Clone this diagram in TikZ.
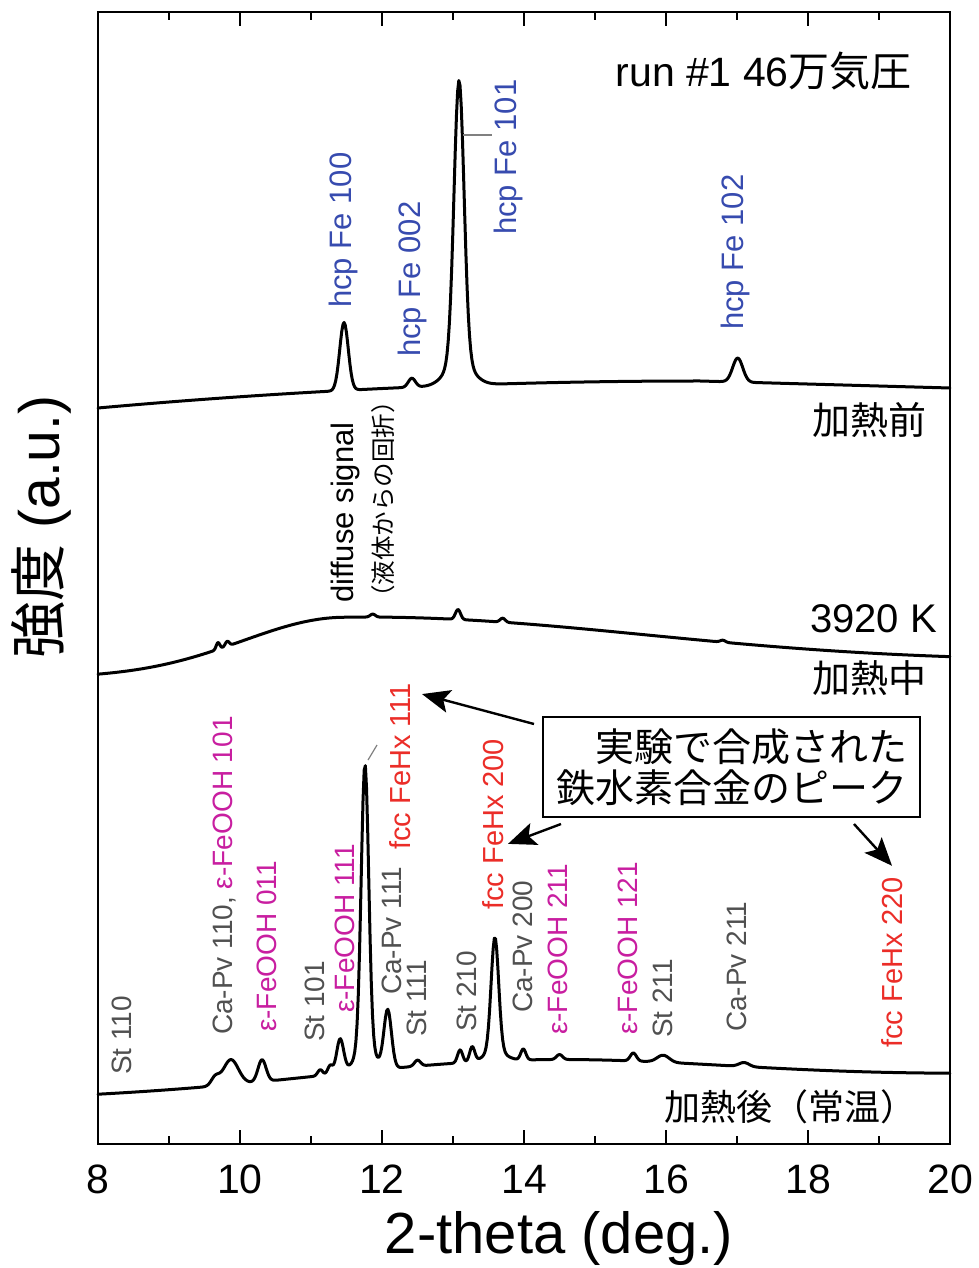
\documentclass[tikz,border=0pt]{standalone}
\usepackage{fontspec}
\setmainfont{Liberation Sans}
\newfontfamily\jp{Noto Sans CJK JP}
\usetikzlibrary{arrows.meta, positioning}

\definecolor{hcpblue}{RGB}{55,75,175}
\definecolor{fehxred}{RGB}{235,45,40}
\definecolor{oohmag}{RGB}{200,30,160}
\definecolor{phasegray}{RGB}{80,80,80}

\begin{document}
\begin{tikzpicture}[
    x=1pt, y=-1pt,
    declare function={
        pk(\x,\m,\s)=exp(-1*(min(abs(\x-\m)/\s,6))^2);
    },
    frame/.style={line width=2.5pt},
    tickmark/.style={line width=2.5pt},
    spec/.style={line width=3pt, line join=round, line cap=round},
    lbl/.style={rotate=90, anchor=west, inner sep=0pt, font=\fontsize{28}{30}\selectfont},
    hcp/.style={lbl, text=hcpblue, font=\fontsize{31}{33}\selectfont},
    phase/.style={lbl, text=phasegray},
    ooh/.style={lbl, text=oohmag},
    fehx/.style={lbl, text=fehxred, font=\fontsize{29}{31}\selectfont},
    jplbl/.style={inner sep=0pt, font=\jp\fontsize{38}{40}\selectfont},
    ticklbl/.style={anchor=base, inner sep=0pt, font=\fontsize{41}{43}\selectfont},
    leader/.style={draw=gray, line width=1.2pt},
    callout/.style={draw, line width=2pt, minimum width=377pt, minimum height=100pt, align=right, inner sep=0pt, font=\jp\fontsize{39}{41}\selectfont},
    arrow/.style={-{Stealth[length=28pt, width=23pt, inset=6pt]}, line width=2.4pt}
]
    \useasboundingbox (0,0) rectangle (978,1268);

    % Frame
    \draw[frame] (98,12) rectangle (950,1144);

    % Ticks
    \foreach \n in {2,4,...,10} {
        \draw[tickmark] ({98+71*\n},12) -- ++(0,14);
        \draw[tickmark] ({98+71*\n},1144) -- ++(0,-14);
    }
    \foreach \n in {1,3,...,11} {
        \draw[tickmark] ({98+71*\n},12) -- ++(0,8);
        \draw[tickmark] ({98+71*\n},1144) -- ++(0,-8);
    }

    \begin{scope}[x=71pt, xshift=-470pt]
        \foreach \pos in {8,10,...,20}
            \node[ticklbl] (tick\pos) at (\pos,1193) {\pos};

        % Before heating
        \draw[spec] plot[domain=8:20, samples=721]
            (\x, {ifthenelse(\x<16.48, 381+0.3755*(\x-16.48)*(\x-16.48), 381+1.99*(\x-16.48))
                - 68*pk(\x,11.465,0.085) - 9*pk(\x,12.42,0.07)
                - 280*pk(\x,13.085,0.1) - 25*pk(\x,13.085,0.25)
                - 24*pk(\x,17.01,0.1)});

        % During heating
        \draw[spec] plot[domain=8:20, samples=721]
            (\x, {677 - 13/12*(\x-8)
                - 56*ifthenelse(\x<11.45, pk(\x,11.45,2), pk(\x,11.45,6))
                - 7*pk(\x,9.69,0.035) - 5*pk(\x,9.82,0.04) - 3*pk(\x,11.87,0.05)
                - 10*pk(\x,13.07,0.05) - 4*pk(\x,13.70,0.05) - 2*pk(\x,16.8,0.05)});

        % After heating
        \draw[spec] plot[domain=8:20, samples=721]
            (\x, {1097 - 1.75*(\x-8) - 26.5*pk(\x,14,4)
                - 8*pk(\x,9.65,0.08) - 25*pk(\x,9.87,0.15) - 22*pk(\x,10.31,0.08)
                - 6*pk(\x,11.13,0.05) - 9*pk(\x,11.27,0.05) - 34*pk(\x,11.41,0.07)
                - 285*pk(\x,11.76,0.075) - 22*pk(\x,11.76,0.2) - 58*pk(\x,12.08,0.075)
                - 6*pk(\x,12.5,0.06) - 13*pk(\x,13.1,0.05) - 15*pk(\x,13.27,0.05)
                - 114*pk(\x,13.59,0.075) - 10*pk(\x,13.59,0.2) - 11*pk(\x,13.99,0.05)
                - 5*pk(\x,14.5,0.06) - 8*pk(\x,15.54,0.06) - 7*pk(\x,15.96,0.12)
                - 4*pk(\x,17.1,0.1)});
    \end{scope}

    % Axis labels
    \node[rotate=90, inner sep=0pt, font=\fontsize{57}{60}\selectfont] (ylab) at (41,527) {{\jp 強度} (a.u.)};
    \node[anchor=base, inner sep=0pt, font=\fontsize{58}{60}\selectfont] (xlab) at (559,1253) {2-theta (deg.)};

    % Run and conditions
    \node[anchor=base east, inner sep=0pt, font=\fontsize{41}{43}\selectfont] (run) at (912,87) {run \#1 46{\jp 万気圧}};
    \node[jplbl, anchor=east] (before) at (927,420) {加熱前};
    \node[anchor=base east, inner sep=0pt, font=\fontsize{40}{42}\selectfont] (temp) at (937,632) {3920 K};
    \node[jplbl, anchor=east] (during) at (927,678) {加熱中};
    \node[jplbl, anchor=east, font=\jp\fontsize{36}{38}\selectfont] (after) at (917,1107) {加熱後（常温）};

    % hcp Fe peaks
    \node[hcp] (h100) at (343,308) {hcp Fe 100};
    \node[hcp] (h002) at (412,357) {hcp Fe 002};
    \node[hcp] (h101) at (508,235) {hcp Fe 101};
    \node[hcp] (h102) at (735,330) {hcp Fe 102};
    \coordinate (p101) at (463,135);
    \draw[leader] (p101) -- ++(29,0);

    % Diffuse signal
    \node[lbl, font=\fontsize{31}{33}\selectfont] (diffuse) at (345,603) {diffuse signal};
    \node[lbl, font=\jp\fontsize{24.5}{26}\selectfont] (liquid) at (383,610) {（液体からの回折）};

    % Quenched phases
    \node[phase] (st110) at (122,1075) {St 110};
    \node[phase] (cp110) at (225,1035) {Ca-Pv 110, \textcolor{oohmag}{ε-FeOOH 101}};
    \node[ooh] (e011) at (267,1032) {ε-FeOOH 011};
    \node[phase] (st101) at (315,1042) {St 101};
    \node[ooh] (e111) at (345,1013) {ε-FeOOH 111};
    \node[phase] (cp111) at (392,995) {Ca-Pv 111};
    \node[phase] (st111) at (417,1037) {St 111};
    \node[fehx] (f111) at (400,850) {fcc FeHx 111};
    \node[phase] (st210) at (467,1032) {St 210};
    \node[fehx] (f200) at (493,910) {fcc FeHx 200};
    \node[phase] (cp200) at (523,1013) {Ca-Pv 200};
    \node[ooh] (e211) at (558,1035) {ε-FeOOH 211};
    \node[ooh] (e121) at (628,1035) {ε-FeOOH 121};
    \node[phase] (st211) at (663,1038) {St 211};
    \node[phase] (cp211) at (737,1032) {Ca-Pv 211};
    \node[fehx] (f220) at (892,1048) {fcc FeHx 220};
    \coordinate (p111) at (368,760);
    \draw[leader] (p111) -- ++(9,-15);

    % Callout
    \node[callout] (box) at (731.5,767) {実験で合成された\\鉄水素合金のピーク};
    \coordinate (a1s) at ([xshift=-8pt, yshift=-8pt]box.north west);
    \coordinate (a1e) at ([xshift=22pt, yshift=-11pt]f111.east);
    \coordinate (a2s) at ([xshift=19pt, yshift=-6pt]box.south west);
    \coordinate (a2e) at ([xshift=15pt, yshift=-19.5pt]f200.center);
    \coordinate (a3s) at ([xshift=-67pt, yshift=-6pt]box.south east);
    \coordinate (a3e) at ([yshift=11pt]f220.east);
    \draw[arrow] (a1s) -- (a1e);
    \draw[arrow] (a2s) -- (a2e);
    \draw[arrow] (a3s) -- (a3e);
\end{tikzpicture}
\end{document}
